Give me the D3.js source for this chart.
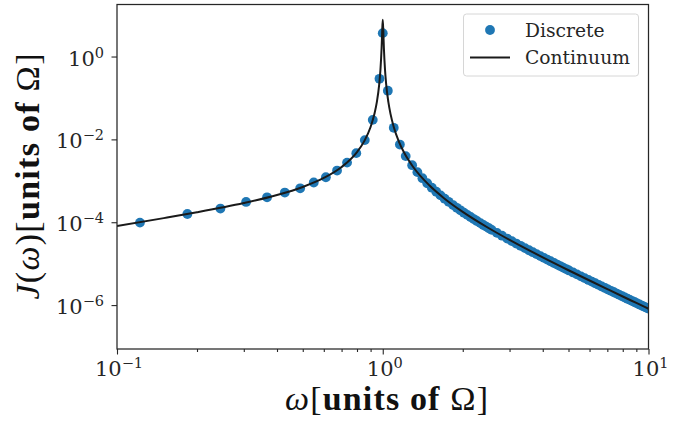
<!DOCTYPE html>
<html><head><meta charset="utf-8">
<script src="https://cdn.jsdelivr.net/npm/d3@7"></script>
<style>body{margin:0;background:#fff}svg{display:block}</style>
</head><body><svg id="c" width="697" height="422"></svg>
<script>
// ---- data ----
const discreteOmega = [0.122,0.184,0.245,0.306,0.367,0.428,0.489,0.550,0.611,0.673,0.734,0.795,0.856,0.917,0.972,1.000,1.045,
  1.10,1.16,1.22,1.29,1.35,1.41,1.47,1.53,1.59,1.65,1.71,1.77,1.84,1.90,1.96,2.02,2.08,2.14,2.20,2.26,2.33,2.39,2.45,2.51,2.57,
  2.69,2.81,2.94,3.06,3.18,3.30,3.43,3.55,3.67,3.79,3.92,4.04,4.16,4.28,4.41,4.53,4.65,4.77,4.90,5.02,
  5.20,5.38,5.57,5.75,5.94,6.12,6.30,6.49,6.67,6.86,7.04,7.22,7.41,7.59,7.77,7.96,8.14,8.33,8.51,8.69,8.88,9.06,9.24,9.43,9.61,9.80,9.98];
const discreteJ = [9.8e-5,1.58e-4,2.14e-4,3.09e-4,4.0e-4,5.2e-4,6.6e-4,9.1e-4,1.22e-3,1.77e-3,2.75e-3,4.65e-3,9.6e-3,2.96e-2,0.29,3.67,0.15,
  1.9e-2,7.5e-3,3.95e-3,2.38e-3,1.62e-3,1.155e-3,8.73e-4,6.81e-4,5.45e-4,4.45e-4,3.70e-4,3.11e-4,2.59e-4,2.23e-4,1.94e-4,1.70e-4,1.504e-4,1.336e-4,1.194e-4,1.072e-4,9.50e-5,8.61e-5,7.83e-5,7.15e-5,6.54e-5,
  5.53e-5,4.73e-5,4.03e-5,3.50e-5,3.06e-5,2.70e-5,2.37e-5,2.11e-5,1.889e-5,1.698e-5,1.519e-5,1.377e-5,1.252e-5,1.142e-5,1.037e-5,9.51e-6,8.75e-6,8.06e-6,7.40e-6,6.86e-6,
  6.13e-6,5.51e-6,4.94e-6,4.47e-6,4.04e-6,3.68e-6,3.37e-6,3.07e-6,2.82e-6,2.59e-6,2.39e-6,2.21e-6,2.04e-6,1.895e-6,1.763e-6,1.637e-6,1.529e-6,1.425e-6,1.335e-6,1.252e-6,1.172e-6,1.102e-6,1.038e-6,9.76e-7,9.21e-7,8.68e-7,8.21e-7];
const continuumOmega = [0.1,0.15,0.2,0.3,0.4,0.5,0.6,0.7,0.8,0.85,0.9,0.93,0.95,0.97,0.98,0.99,0.995,1.0,1.005,1.01,1.02,1.03,1.05,1.07,1.1,1.15,1.2,1.3,1.5,1.7,2,2.5,3,4,5,6,7,8,9,10];
const continuumJ = [8.16e-5,1.256e-4,1.736e-4,2.898e-4,4.535e-4,7.11e-4,1.172e-3,2.153e-3,4.94e-3,8.83e-3,1.994e-2,4.08e-2,7.92e-2,0.216,0.470,1.59,3.93,7.69,3.91,1.584,0.469,0.216,7.91e-2,4.08e-2,1.995e-2,8.85e-3,4.96e-3,2.184e-3,7.68e-4,3.81e-4,1.78e-4,7.26e-5,3.75e-5,1.42e-5,6.94e-6,3.92e-6,2.43e-6,1.61e-6,1.125e-6,8.16e-7];
const xTickValues = [0.1, 1, 10];
const xTickExponents = ["\u22121", "0", "1"];
const xMinorTicks = [0.2,0.3,0.4,0.5,0.6,0.7,0.8,0.9,2,3,4,5,6,7,8,9];
const yTickValues = [1, 1e-2, 1e-4, 1e-6];
const yTickExponents = ["0", "\u22122", "\u22124", "\u22126"];
const legendLabels = ["Discrete", "Continuum"];

// ---- layout ----
const L = 117, R = 648.5, T = 4.5, B = 349;
const dotColor = "#1f77b4", lineColor = "#1a1a1a", ink = "#262626";
const tickFont = "DejaVu Serif", labelFont = "Liberation Serif";

const svg = d3.select("#c");
const x = d3.scaleLog().domain([0.1, 10]).range([L, R]);
const y = d3.scaleLog().domain([Math.pow(10, -7.06), Math.pow(10, 1.256)]).range([B, T]);

svg.append("defs").append("clipPath").attr("id", "clip")
  .append("rect").attr("x", L).attr("y", T).attr("width", R - L).attr("height", B - T);

const plot = svg.append("g").attr("clip-path", "url(#clip)");
const pts = discreteOmega.map((w, i) => [w, discreteJ[i]]);
plot.selectAll("circle").data(pts).join("circle")
  .attr("cx", d => x(d[0])).attr("cy", d => y(d[1])).attr("r", 4.9).attr("fill", dotColor);

const cont = continuumOmega.map((w, i) => [w, continuumJ[i]]);
plot.append("path").datum(cont)
  .attr("d", d3.line().x(d => x(d[0])).y(d => y(d[1])).curve(d3.curveMonotoneX))
  .attr("fill", "none").attr("stroke", lineColor).attr("stroke-width", 2);

// axes tick marks
const gx = svg.append("g").attr("transform", `translate(0,${B})`)
  .call(d3.axisBottom(x).tickValues(xTickValues).tickSize(5.5).tickFormat(""));
const gxm = svg.append("g").attr("transform", `translate(0,${B})`)
  .call(d3.axisBottom(x).tickValues(xMinorTicks).tickSize(3).tickFormat(""));
const gy = svg.append("g").attr("transform", `translate(${L},0)`)
  .call(d3.axisLeft(y).tickValues(yTickValues).tickSize(5.5).tickFormat(""));
[gx, gxm, gy].forEach(g => {
  g.select(".domain").remove();
  g.selectAll("line").attr("stroke", ink).attr("stroke-width", 1.1);
});

// frame
svg.append("rect").attr("x", L).attr("y", T).attr("width", R - L).attr("height", B - T)
  .attr("fill", "none").attr("stroke", ink).attr("stroke-width", 1.25);

// tick labels
function powLabel(g, base, exp) {
  g.append("tspan").text(base);
  g.append("tspan").attr("font-size", 14.5).attr("dy", -8).text(exp);
}
xTickValues.forEach((v, i) => {
  const t = svg.append("text").attr("x", x(v) + 2).attr("y", 376)
    .attr("text-anchor", "middle").attr("font-family", tickFont).attr("font-size", 21).attr("fill", ink);
  powLabel(t, "10", xTickExponents[i]);
});
yTickValues.forEach((v, i) => {
  const t = svg.append("text").attr("x", 104).attr("y", y(v) + 9)
    .attr("text-anchor", "end").attr("font-family", tickFont).attr("font-size", 21).attr("fill", ink);
  powLabel(t, "10", yTickExponents[i]);
});

// axis labels
function axisLabel(t, prefix) {
  prefix.forEach(p => t.append("tspan").attr("font-style", p.it ? "italic" : null).text(p.s));
  t.append("tspan").text("[");
  t.append("tspan").attr("font-weight", "bold").text("units of ");
  t.append("tspan").text("\u03A9]");
}
const xl = svg.append("text").attr("x", 386.5).attr("y", 410).attr("text-anchor", "middle")
  .attr("font-family", labelFont).attr("font-size", 34).attr("fill", "#111")
  .attr("textLength", 203).attr("lengthAdjust", "spacing");
axisLabel(xl, [{s: "\u03C9", it: true}]);
const yl = svg.append("text").attr("transform", "translate(39,176.5) rotate(-90)").attr("text-anchor", "middle")
  .attr("font-family", labelFont).attr("font-size", 34).attr("fill", "#111")
  .attr("textLength", 246).attr("lengthAdjust", "spacing");
axisLabel(yl, [{s: "J", it: true}, {s: "("}, {s: "\u03C9", it: true}, {s: ")"}]);

// legend
const lg = svg.append("g");
lg.append("rect").attr("x", 463.5).attr("y", 14).attr("width", 175).attr("height", 62).attr("rx", 3)
  .attr("fill", "#fff").attr("fill-opacity", 0.85).attr("stroke", "#d6d6d6").attr("stroke-width", 1);
lg.append("circle").attr("cx", 490).attr("cy", 30).attr("r", 4.9).attr("fill", dotColor);
lg.append("line").attr("x1", 470).attr("x2", 510).attr("y1", 57.5).attr("y2", 57.5)
  .attr("stroke", lineColor).attr("stroke-width", 2);
legendLabels.forEach((s, i) => {
  lg.append("text").attr("x", 525).attr("y", 36.5 + i * 27.3).attr("font-family", tickFont)
    .attr("font-size", 18.7).attr("fill", ink).text(s);
});
</script></body></html>
